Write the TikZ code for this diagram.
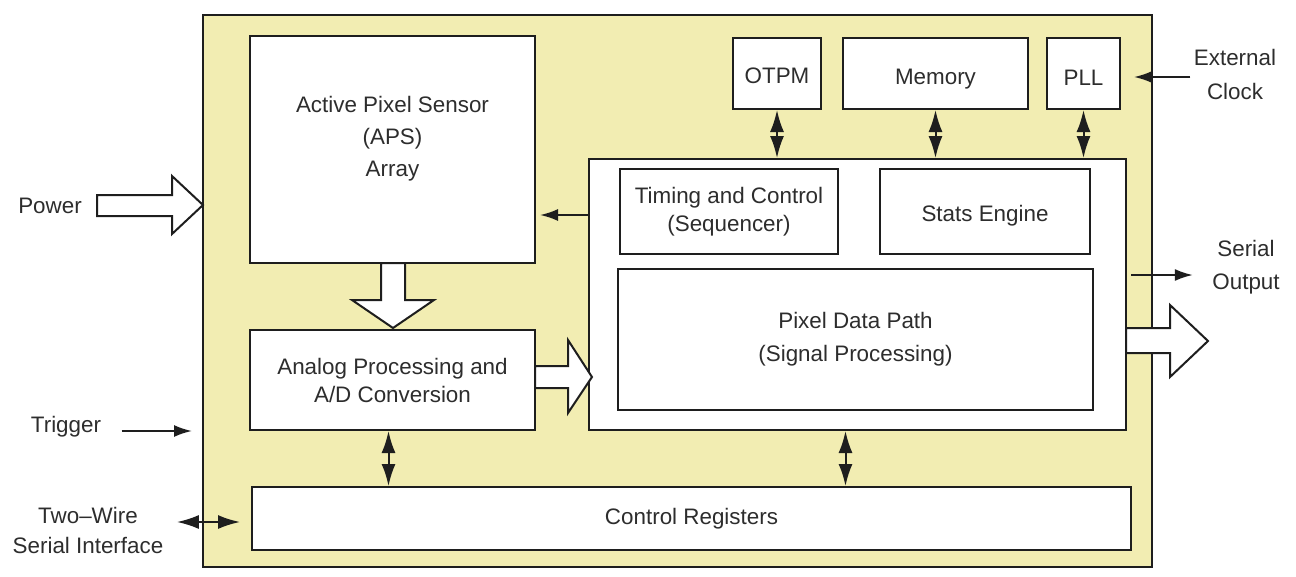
\documentclass[tikz,border=0pt]{standalone}
\usepackage{fontspec}
\setmainfont{Liberation Sans}
\usetikzlibrary{arrows.meta}
\definecolor{chipbg}{RGB}{242,237,178}
\definecolor{ink}{RGB}{30,30,30}
\definecolor{txt}{RGB}{45,45,45}

\begin{document}
\begin{tikzpicture}[x=1pt,y=-1pt,
    every node/.style={text=txt, font=\fontsize{22.4}{32}\selectfont, align=center},
    blk/.style={draw=ink, line width=2pt, fill=white, inner sep=0pt},
    sig/.style={-{Latex[length=18pt,width=12pt]}, line width=2pt, draw=ink},
    bus/.style={{Latex[length=22pt,width=14pt]}-{Latex[length=22pt,width=14pt]}, line width=2pt, draw=ink},
    fat/.style={draw=ink, line width=2pt, fill=white, line join=miter}]
    \useasboundingbox (0,0) rectangle (1296,576);
    % chip outline
    \node[blk, fill=chipbg, minimum width=949pt, minimum height=552pt] at (677.5,291) (chip) {};
    % blocks
    \node[blk, minimum width=285pt, minimum height=227pt] at (392.5,149.5) (APS) {};
    \node[yshift=11pt] at (APS.center) (apstxt) {Active Pixel Sensor\\(APS)\\Array};
    \node[blk, minimum width=285pt, minimum height=100pt] at (392.5,380) (ADC) {Analog Processing and\\[-4pt]A/D Conversion};
    \node[blk, minimum width=537pt, minimum height=271pt] at (857.5,294.5) (core) {};
    \node[blk, minimum width=218pt, minimum height=85pt] at (729,211.5) (timing) {Timing and Control\\[-4pt](Sequencer)};
    \node[blk, minimum width=210pt, minimum height=85pt, text height=24pt, text depth=5pt] at (985,211.5) (stats) {Stats Engine};
    \node[blk, minimum width=475pt, minimum height=141pt] at (855.5,339.5) (pixpath) {Pixel Data Path\\[1pt](Signal Processing)};
    \node[blk, minimum width=88pt, minimum height=71pt, text height=20pt] at (777,73.5) (OTPM) {OTPM};
    \node[blk, minimum width=185pt, minimum height=71pt, text height=26pt, text depth=5pt] at (935.5,73.5) (mem) {Memory};
    \node[blk, minimum width=73pt, minimum height=71pt, text height=24pt] at (1083.5,73.5) (PLL) {PLL};
    \node[blk, minimum width=879pt, minimum height=63pt] at (691.5,518.5) (ctrl) {Control Registers};
    % outside labels
    \node at (50,206) (power) {Power};
    \node at (66,427) (trig) {Trigger};
    \node at (88,530) (twowire) {Two–Wire\\[-2pt]Serial Interface};
    \node at (1235,74) (clk) {External\\[2pt]Clock};
    \node at (1246,267) (sout) {Serial\\[1pt]Output};
    % busses
    \draw[bus] (OTPM.south) -- (OTPM.south |- core.north);
    \draw[bus] (mem.south) -- (mem.south |- core.north);
    \draw[bus] (PLL.south) -- (PLL.south |- core.north);
    \draw[bus] ([xshift=-4pt]ADC.south) -- ([xshift=-4pt]ADC.south |- ctrl.north);
    \draw[bus] ([xshift=-12pt]core.south) -- ([xshift=-12pt]core.south |- ctrl.north);
    \draw[bus, shorten <=10pt, shorten >=11pt] (twowire.east |- 0,522) -- (ctrl.west |- 0,522);
    % signals
    \draw[sig, shorten >=4pt] (core.west |- 0,215) -- (APS.east |- 0,215);
    \draw[sig, shorten <=17pt, shorten >=10pt] (trig.east |- 0,431) -- (chip.west |- 0,431);
    \draw[sig, shorten >=13pt] (clk.west |- 0,77) -- (PLL.east |- 0,77);
    \draw[sig, shorten <=4pt, shorten >=16pt] (core.east |- 0,275) -- (sout.west |- 0,275);
    % hollow arrows
    \draw[fat] (97,195) -- (172,195) -- (172,176) -- (203,205) -- (172,234) -- (172,216) -- (97,216) -- cycle;
    \draw[fat] (381,263) -- (381,300) -- (352,300) -- (393,328) -- (434,300) -- (405,300) -- (405,263) -- cycle;
    \draw[fat] (535,366) -- (568,366) -- (568,340) -- (592,377) -- (568,413) -- (568,388) -- (535,388) -- cycle;
    \draw[fat] (1126,328) -- (1170,328) -- (1170,305) -- (1208,341) -- (1170,377) -- (1170,353) -- (1126,353) -- cycle;
\end{tikzpicture}
\end{document}
